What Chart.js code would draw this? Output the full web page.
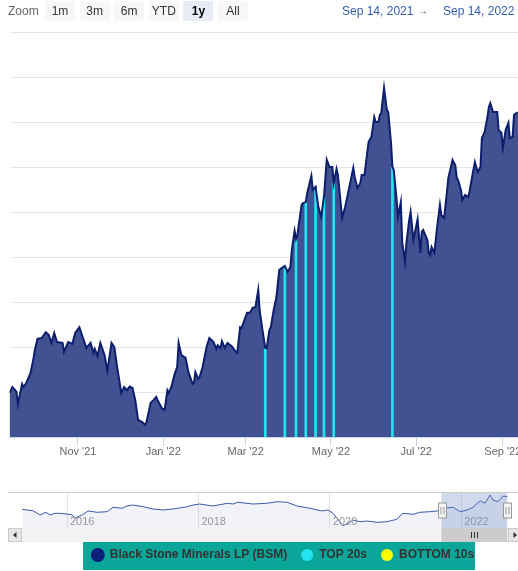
<!DOCTYPE html>
<html>
<head>
<meta charset="utf-8">
<script src="https://cdn.jsdelivr.net/npm/chart.js@4.4.1/dist/chart.umd.min.js"></script>
<style>
html,body{margin:0;padding:0;background:#fff;}
#wrap{position:relative;width:518px;height:571px;overflow:hidden;font-family:"Liberation Sans",Arial,Helvetica,sans-serif;}
#main{position:absolute;left:0;top:0;}
#nav{position:absolute;left:0;top:492px;}
#topbar{position:absolute;left:0;top:0;width:518px;height:24px;}
.zl{position:absolute;left:8px;top:1px;line-height:20px;font-size:12px;color:#666;}
.btn{position:absolute;top:1px;width:30px;height:20px;line-height:20px;text-align:center;background:#f7f7f7;color:#333;font-size:12px;border-radius:2px;}
.btn.sel{background:#e6ebf5;color:#000;font-weight:bold;}
.dt{position:absolute;top:1px;line-height:20px;font-size:12px;color:#335cad;white-space:nowrap;}
.arr{position:absolute;top:1px;line-height:20px;font-size:10px;color:#444;}
</style>
</head>
<body>
<div id="wrap">
  <canvas id="main" width="531" height="571"></canvas>
  <canvas id="nav" width="531" height="50"></canvas>
  <div id="topbar"></div>
</div>
<script>
// ---------- data (main chart: days since Sep 14, 2021) ----------
const days = [-1,1,3,4,5,8,9,11,14,16,17,19,22,25,27,29,31,33,37,38,
  41,44,46,49,52,54,57,59,60,62,64,67,69,72,74,76,79,81,83,85,
  87,89,91,94,96,97,100,102,104,105,108,110,112,113,115,117,119,120,122,125,
  127,130,131,132,134,135,137,140,142,145,147,148,150,151,153,155,158,160,162,164,
  165,169,171,173,175,177,178,180,182,183,185,186,188,190,192,194,196,198,200,201,
  203,204,205,208,209,211,212,215,216,218,220,222,224,226,228,230,231,233,234,237,
  239,241,245,246,248,250,251,253,255,256,258,260,261,263,264,265,267,269,270,272,
  273,274,276,277,279,280,282,283,285,286,288,289,291,293,294,295,298,299,300,301,
  303,305,307,308,310,312,313,316,318,319,320,322,323,325,327,328,330,332,334,336,
  337,339,341,342,343,345,348,349,351,352,354,356,357,359,360,362,365];
const prices = [9.98,10.11,10.04,10.00,9.73,10.18,10.11,10.20,10.42,10.71,10.91,11.18,11.20,11.33,11.27,11.09,11.31,11.11,11.09,10.89,
  11.11,11.07,11.31,11.44,11.16,10.98,11.09,10.87,10.96,10.80,11.09,10.82,10.47,11.09,11.00,10.56,9.98,10.11,10.04,10.12,
  10.09,9.82,9.38,9.33,9.27,9.33,9.76,9.82,9.89,9.82,9.64,9.60,10.04,9.98,10.13,10.38,10.56,11.09,10.82,10.76,
  10.44,10.18,10.20,10.44,10.29,10.33,10.53,11.00,11.20,11.11,10.96,11.04,10.98,11.13,10.98,11.09,11.02,10.93,10.87,11.44,
  11.42,11.76,11.76,11.87,11.89,12.27,11.82,11.38,10.98,10.98,11.38,11.44,11.82,12.11,12.71,12.76,12.80,12.67,12.78,13.16,
  13.58,13.40,13.49,14.16,14.20,14.22,14.42,14.80,14.49,14.56,14.11,13.89,14.33,15.16,15.00,15.00,14.64,14.96,14.82,13.87,
  14.09,14.38,14.98,14.78,14.53,14.64,14.82,14.82,15.33,15.56,15.67,16.11,16.00,16.00,16.16,16.20,16.76,16.27,16.22,15.53,
  15.00,14.93,14.27,13.89,14.22,13.33,12.89,13.31,13.82,14.00,13.38,13.53,13.84,13.09,13.56,13.60,13.38,13.09,13.04,13.22,
  13.09,13.67,14.16,13.93,13.87,14.44,14.76,15.16,15.04,14.76,14.71,14.49,14.27,14.38,14.33,14.42,14.78,15.11,14.89,15.00,
  15.64,15.78,16.11,16.33,16.42,16.22,16.22,15.82,15.76,15.42,15.82,15.98,15.64,15.67,16.16,16.20,16.22];
const topDays = [182,196,204,211,218,224,231,273];
const topValues = [10.98,12.80,13.40,14.22,14.56,14.33,14.64,15.00];
const bottomDays = [];
const bottomValues = [];
const tickDays = [48,109,168,229,290,352];
const tickLabels = ["Nov '21","Jan '22","Mar '22","May '22","Jul '22","Sep '22"];
const seriesNames = ['Black Stone Minerals LP (BSM)','TOP 20s','BOTTOM 10s'];

// ---------- navigator data (decimal years) ----------
const navYears = [2015.32,2015.39,2015.48,2015.59,2015.68,2015.74,2015.82,2015.89,
  2016.00,2016.08,2016.12,2016.23,2016.32,2016.46,2016.61,2016.70,2016.84,2016.91,
  2017.00,2017.16,2017.31,2017.46,2017.61,2017.83,2017.92,
  2018.02,2018.22,2018.44,2018.53,2018.60,2018.83,
  2019.04,2019.20,2019.35,2019.50,2019.70,2019.88,2019.97,
  2020.05,2020.11,2020.20,2020.28,2020.35,2020.46,2020.57,2020.72,2020.87,
  2021.02,2021.11,2021.27,2021.37,2021.52,2021.63,2021.72,2021.88,2021.98,
  2022.09,2022.18,2022.29,2022.36,2022.44,2022.48,2022.56,2022.64,2022.70];
const navPrices = [10.07,9.75,9.42,7.41,8.67,7.41,8.20,8.20,
  7.88,7.41,5.87,7.41,9.28,8.67,8.95,11.01,10.54,11.62,
  12.08,11.29,10.21,9.75,10.21,11.29,12.08,
  12.55,11.62,12.88,12.55,13.35,12.55,
  12.88,13.63,13.35,11.62,10.54,9.28,9.75,
  8.20,5.87,2.40,3.53,5.07,4.28,4.60,3.99,4.28,
  5.40,8.20,7.74,8.67,8.95,9.28,10.54,11.01,8.95,
  9.75,11.01,14.10,12.88,16.76,14.42,13.63,16.29,15.97];
const navTickYears = [2016,2018,2020,2022];
const selectedRange = [2021.70, 2022.70];

// ---------- range selector ----------
const rangeButtons = ['1m','3m','6m','YTD','1y','All'];
const selectedButton = '1y';
const rangeFrom = 'Sep 14, 2021';
const rangeTo = 'Sep 14, 2022';

const FONT = '"Liberation Sans", Arial, Helvetica, sans-serif';

(function buildTopBar(){
  const bar = document.getElementById('topbar');
  const z = document.createElement('div'); z.className = 'zl'; z.textContent = 'Zoom'; bar.appendChild(z);
  rangeButtons.forEach((t, i) => {
    const b = document.createElement('div');
    b.className = 'btn' + (t === selectedButton ? ' sel' : '');
    b.style.left = (45 + i * 34.6) + 'px';
    b.textContent = t;
    bar.appendChild(b);
  });
  const d1 = document.createElement('div'); d1.className = 'dt'; d1.style.left = '342px'; d1.textContent = rangeFrom; bar.appendChild(d1);
  const a = document.createElement('div'); a.className = 'arr'; a.style.left = '418px'; a.textContent = '\u2192'; bar.appendChild(a);
  const d2 = document.createElement('div'); d2.className = 'dt'; d2.style.left = '443px'; d2.textContent = rangeTo; bar.appendChild(d2);
})();

// ---------- main chart ----------
const legendBox = {
  id: 'legendBox',
  afterLayout(chart) {
    const lg = chart.legend;
    const w = lg.right - lg.left;
    const c = 283;
    lg.left = c - w / 2;
    lg.right = c + w / 2;
  },
  beforeDraw(chart) {
    const ctx = chart.ctx;
    ctx.save();
    ctx.fillStyle = '#ffffff';
    ctx.fillRect(0, 0, chart.width, chart.height);
    ctx.fillStyle = '#0aa69a';
    ctx.fillRect(83, 542, 392, 28);
    ctx.restore();
  }
};

new Chart(document.getElementById('main'), {
  type: 'line',
  data: {
    datasets: [
      {
        label: seriesNames[0],
        data: days.map((d, i) => ({ x: d, y: prices[i] })),
        borderColor: '#0d1e6c',
        borderWidth: 2,
        backgroundColor: '#415191',
        fill: 'start',
        pointRadius: 0,
        pointHoverRadius: 0,
        pointBackgroundColor: '#0c1f7a',
        pointBorderColor: '#0c1f7a',
        tension: 0,
        order: 0
      },
      {
        type: 'bar',
        label: seriesNames[1],
        data: topDays.map((d, i) => ({ x: d, y: topValues[i] })),
        backgroundColor: '#22e3f2',
        barThickness: 2,
        maxBarThickness: 2,
        grouped: false,
        order: 1
      },
      {
        type: 'bar',
        label: seriesNames[2],
        data: bottomDays.map((d, i) => ({ x: d, y: bottomValues[i] })),
        backgroundColor: '#ffff00',
        barThickness: 2,
        maxBarThickness: 2,
        grouped: false,
        order: 2
      }
    ]
  },
  options: {
    responsive: false,
    animation: false,
    events: [],
    layout: { padding: { left: 9.5, right: 10, top: 32, bottom: 0 } },
    plugins: {
      legend: {
        position: 'bottom',
        labels: {
          usePointStyle: true,
          pointStyle: 'circle',
          boxWidth: 12,
          boxHeight: 8.5,
          padding: 14,
          color: '#333333',
          font: { size: 12, weight: 'bold', family: FONT }
        }
      },
      tooltip: { enabled: false },
      filler: { drawTime: 'beforeDatasetsDraw' }
    },
    scales: {
      x: {
        type: 'linear',
        min: -1,
        max: 365,
        offset: false,
        afterBuildTicks: s => { s.ticks = tickDays.map(v => ({ value: v })); },
        afterFit: s => { s.height = 98; },
        grid: { drawOnChartArea: false, color: '#ccd6eb', tickLength: 9, offset: false },
        border: { display: true, color: '#ccd6eb' },
        ticks: {
          autoSkip: false,
          maxRotation: 0,
          padding: -1,
          color: '#666666',
          font: { size: 11, family: FONT },
          callback: v => tickLabels[tickDays.indexOf(v)]
        }
      },
      y: {
        min: 9,
        max: 18,
        ticks: { display: false, stepSize: 1 },
        grid: { color: '#e6e6e6', drawTicks: false },
        border: { display: false }
      }
    }
  },
  plugins: [legendBox]
});

// ---------- navigator + scrollbar ----------
const navDecor = {
  id: 'navDecor',
  afterDatasetsDraw(chart) {
    // year labels inside the navigator, left-aligned next to each grid line
    const ctx = chart.ctx, xs = chart.scales.x, a = chart.chartArea;
    ctx.save();
    ctx.font = '11px ' + FONT;
    ctx.fillStyle = '#999999';
    ctx.textAlign = 'left';
    ctx.textBaseline = 'middle';
    xs.ticks.forEach(t => {
      ctx.fillText(String(t.value), xs.getPixelForValue(t.value) + 3, a.bottom - 6);
    });
    ctx.restore();
  },
  afterDraw(chart) {
    const ctx = chart.ctx, xs = chart.scales.x, a = chart.chartArea;
    const x0 = xs.getPixelForValue(selectedRange[0]);
    const x1 = xs.getPixelForValue(selectedRange[1]);
    ctx.save();
    // mask over selected range
    ctx.fillStyle = 'rgba(102,133,194,0.3)';
    ctx.fillRect(x0, a.top, x1 - x0, a.bottom - a.top);
    // outline
    ctx.strokeStyle = '#cccccc';
    ctx.lineWidth = 1;
    ctx.beginPath(); ctx.moveTo(8, a.top + 0.5); ctx.lineTo(chart.width, a.top + 0.5); ctx.stroke();
    // scrollbar track
    const sy = a.bottom, sh = 14;
    ctx.fillStyle = '#f2f2f2';
    ctx.fillRect(8, sy, chart.width - 8, sh);
    // buttons
    const drawBtn = (bx, dir) => {
      ctx.fillStyle = '#e6e6e6';
      ctx.fillRect(bx, sy, 14, sh);
      ctx.strokeStyle = '#cccccc';
      ctx.strokeRect(bx + 0.5, sy + 0.5, 13, sh - 1);
      const cx = bx + 7, cy = sy + 7;
      ctx.fillStyle = '#333333';
      ctx.beginPath();
      if (dir < 0) { ctx.moveTo(cx - 2, cy); ctx.lineTo(cx + 1.5, cy - 3); ctx.lineTo(cx + 1.5, cy + 3); }
      else { ctx.moveTo(cx + 2, cy); ctx.lineTo(cx - 1.5, cy - 3); ctx.lineTo(cx - 1.5, cy + 3); }
      ctx.closePath(); ctx.fill();
    };
    drawBtn(8, -1);
    // thumb
    ctx.fillStyle = '#cccccc';
    ctx.fillRect(x0, sy, x1 - x0, sh);
    const tc = Math.round((x0 + x1) / 2) + 0.5;
    ctx.strokeStyle = '#333333';
    ctx.beginPath();
    [-3, 0, 3].forEach(o => { ctx.moveTo(tc + o, sy + 4); ctx.lineTo(tc + o, sy + 10); });
    ctx.stroke();
    drawBtn(Math.round(x1) + 1, 1);
    // handles
    const drawHandle = hx => {
      const x = Math.round(hx) + 0.5;
      ctx.fillStyle = '#f2f2f2';
      ctx.strokeStyle = '#999999';
      ctx.fillRect(x - 4, a.top + 11, 8, 15);
      ctx.strokeRect(x - 4, a.top + 11, 8, 15);
      ctx.beginPath();
      ctx.moveTo(x - 1.5, a.top + 15); ctx.lineTo(x - 1.5, a.top + 22);
      ctx.moveTo(x + 1.5, a.top + 15); ctx.lineTo(x + 1.5, a.top + 22);
      ctx.stroke();
    };
    drawHandle(x0);
    drawHandle(x1);
    ctx.restore();
  }
};

new Chart(document.getElementById('nav'), {
  type: 'line',
  data: {
    datasets: [{
      label: seriesNames[0],
      data: navYears.map((y, i) => ({ x: y, y: navPrices[i] })),
      borderColor: '#3c58a8',
      borderWidth: 1,
      backgroundColor: 'rgba(51,92,173,0.07)',
      fill: 'start',
      pointRadius: 0,
      tension: 0
    }]
  },
  options: {
    responsive: false,
    animation: false,
    events: [],
    layout: { padding: { left: 22, right: 23, top: 0, bottom: 14 } },
    plugins: { legend: { display: false }, tooltip: { enabled: false } },
    scales: {
      x: {
        type: 'linear',
        min: 2015.315,
        max: 2022.712,
        afterBuildTicks: s => { s.ticks = navTickYears.map(v => ({ value: v })); },
        afterFit: s => { s.height = 0; },
        grid: { color: '#e6e6e6', drawTicks: false },
        border: { display: false },
        ticks: { display: false, autoSkip: false }
      },
      y: { display: false, min: 1.33, max: 18.16 }
    }
  },
  plugins: [navDecor]
});
</script>
</body>
</html>
